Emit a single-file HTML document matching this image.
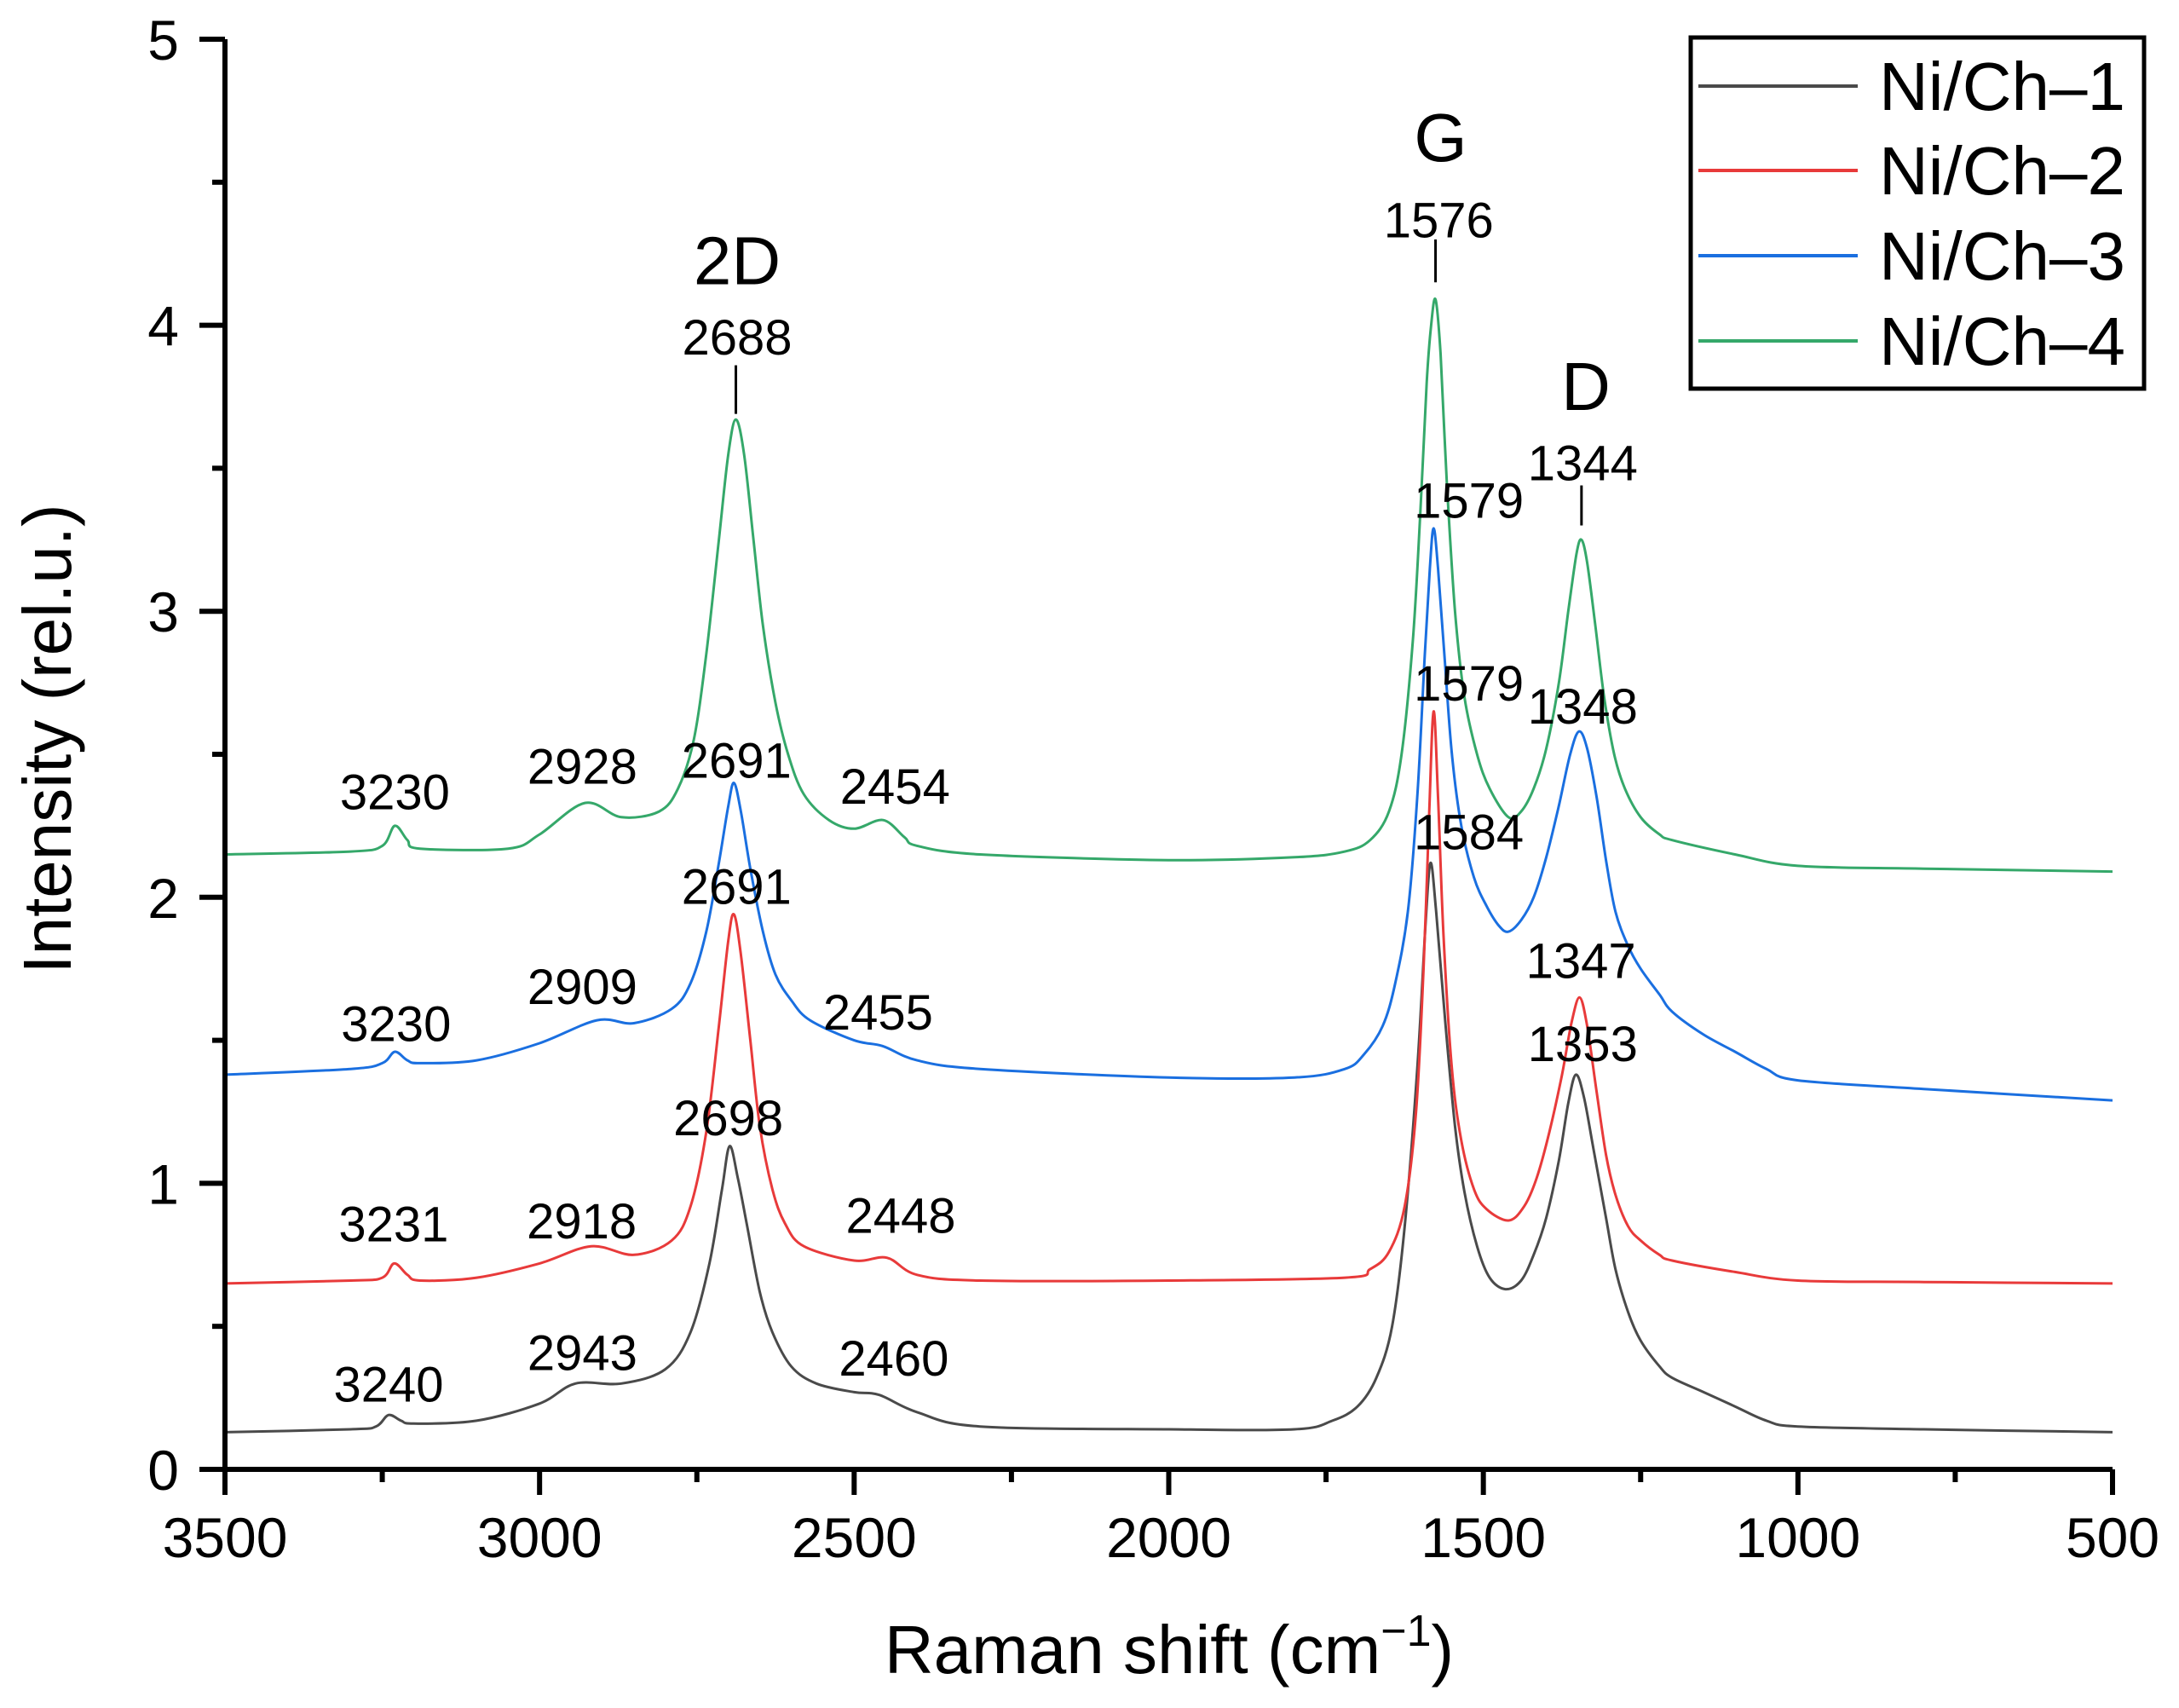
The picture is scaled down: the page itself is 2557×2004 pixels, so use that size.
<!DOCTYPE html>
<html><head><meta charset="utf-8"><style>
html,body{margin:0;padding:0;background:#fff;}
svg{display:block;font-family:"Liberation Sans",Arial,sans-serif;}
</style></head><body>
<svg id="chart" width="2557" height="2004" viewBox="0 0 2557 2004" xmlns="http://www.w3.org/2000/svg">
<g id="series"></g>
<g id="axes"></g>
<g id="annots"></g>
<text x="83" y="867" transform="rotate(-90 83 867)" text-anchor="middle" font-size="80">Intensity (rel.u.)</text>
<text x="1372" y="1963" text-anchor="middle" font-size="80">Raman shift (cm<tspan dy="-32" font-size="52">−1</tspan><tspan dy="32">)</tspan></text>
<g>
<rect x="1984" y="44" width="532" height="412" fill="#fff" stroke="#000" stroke-width="5"/>
<line x1="1993" y1="101" x2="2180" y2="101" stroke="#4a4a4a" stroke-width="4"/>
<text x="2205" y="129" font-size="80">Ni/Ch–1</text>
<line x1="1993" y1="200" x2="2180" y2="200" stroke="#e83a3a" stroke-width="4"/>
<text x="2205" y="228" font-size="80">Ni/Ch–2</text>
<line x1="1993" y1="300" x2="2180" y2="300" stroke="#1a6fe0" stroke-width="4"/>
<text x="2205" y="328" font-size="80">Ni/Ch–3</text>
<line x1="1993" y1="400" x2="2180" y2="400" stroke="#35a86a" stroke-width="4"/>
<text x="2205" y="428" font-size="80">Ni/Ch–4</text>
</g>
</svg>
<script>
const xTicks = [3500, 3000, 2500, 2000, 1500, 1000, 500];
const yTicks = [0, 1, 2, 3, 4, 5];
const seriesNames = ['Ni/Ch-1', 'Ni/Ch-2', 'Ni/Ch-3', 'Ni/Ch-4'];
const seriesColors = ['#4a4a4a', '#e83a3a', '#1a6fe0', '#35a86a'];
const ch1 = [[3500,0.13],[3300,0.14],[3260,0.15],[3240,0.19],[3220,0.17],[3200,0.16],[3100,0.17],[3000,0.23],[2943,0.30],[2870,0.30],[2800,0.35],[2760,0.48],[2730,0.72],[2710,0.98],[2698,1.13],[2685,1.02],[2670,0.85],[2650,0.62],[2630,0.48],[2600,0.36],[2560,0.30],[2500,0.27],[2460,0.26],[2400,0.20],[2300,0.15],[2000,0.14],[1800,0.14],[1740,0.17],[1700,0.22],[1670,0.32],[1645,0.50],[1625,0.85],[1605,1.40],[1592,1.90],[1584,2.12],[1575,1.95],[1560,1.55],[1545,1.20],[1530,0.97],[1510,0.78],[1490,0.67],[1465,0.63],[1440,0.66],[1420,0.75],[1400,0.88],[1380,1.08],[1365,1.28],[1353,1.38],[1340,1.30],[1325,1.12],[1305,0.88],[1290,0.70],[1270,0.55],[1250,0.45],[1220,0.36],[1200,0.32],[1150,0.27],[1100,0.22],[1050,0.17],[1000,0.15],[800,0.14],[500,0.13]];
const ch2 = [[3500,0.65],[3300,0.66],[3250,0.67],[3231,0.72],[3210,0.68],[3190,0.66],[3100,0.67],[3000,0.72],[2918,0.78],[2850,0.75],[2790,0.80],[2760,0.92],[2735,1.18],[2715,1.55],[2700,1.85],[2691,1.94],[2680,1.80],[2665,1.50],[2650,1.20],[2630,0.98],[2610,0.86],[2580,0.78],[2500,0.73],[2448,0.74],[2400,0.68],[2300,0.66],[2000,0.66],[1720,0.67],[1680,0.70],[1650,0.76],[1625,0.92],[1607,1.25],[1595,1.75],[1586,2.30],[1579,2.65],[1572,2.35],[1563,1.85],[1550,1.40],[1535,1.15],[1515,0.98],[1495,0.91],[1460,0.87],[1435,0.92],[1415,1.02],[1395,1.18],[1375,1.38],[1360,1.56],[1347,1.65],[1335,1.55],[1320,1.32],[1305,1.10],[1290,0.96],[1270,0.85],[1250,0.80],[1220,0.75],[1200,0.73],[1100,0.69],[1000,0.66],[800,0.655],[500,0.65]];
const ch3 = [[3500,1.38],[3300,1.40],[3250,1.42],[3230,1.46],[3210,1.43],[3190,1.42],[3100,1.43],[3000,1.49],[2909,1.57],[2850,1.56],[2790,1.61],[2760,1.70],[2735,1.88],[2715,2.12],[2700,2.32],[2691,2.40],[2680,2.30],[2665,2.10],[2645,1.88],[2625,1.73],[2600,1.64],[2570,1.57],[2500,1.50],[2455,1.48],[2400,1.43],[2300,1.40],[2000,1.37],[1800,1.37],[1720,1.40],[1690,1.45],[1660,1.55],[1640,1.70],[1620,1.95],[1605,2.35],[1593,2.85],[1585,3.15],[1579,3.29],[1572,3.15],[1562,2.85],[1550,2.50],[1535,2.25],[1515,2.07],[1495,1.97],[1475,1.90],[1460,1.88],[1440,1.92],[1420,2.00],[1400,2.14],[1380,2.32],[1362,2.50],[1348,2.58],[1335,2.52],[1320,2.35],[1305,2.13],[1290,1.95],[1270,1.83],[1250,1.75],[1220,1.66],[1200,1.60],[1150,1.52],[1100,1.46],[1050,1.40],[1000,1.36],[800,1.33],[500,1.29]];
const ch4 = [[3500,2.15],[3300,2.16],[3250,2.18],[3230,2.25],[3210,2.20],[3190,2.17],[3050,2.17],[3000,2.22],[2928,2.33],[2870,2.28],[2810,2.30],[2780,2.38],[2755,2.55],[2735,2.85],[2715,3.25],[2700,3.55],[2688,3.67],[2675,3.55],[2660,3.25],[2645,2.95],[2625,2.68],[2605,2.50],[2580,2.36],[2540,2.27],[2500,2.24],[2454,2.27],[2420,2.21],[2400,2.18],[2300,2.15],[2000,2.13],[1800,2.14],[1720,2.16],[1680,2.20],[1650,2.30],[1630,2.50],[1612,2.90],[1600,3.35],[1590,3.80],[1583,4.00],[1576,4.09],[1568,3.90],[1558,3.45],[1545,3.00],[1530,2.70],[1510,2.50],[1490,2.38],[1460,2.28],[1440,2.30],[1420,2.38],[1400,2.52],[1380,2.75],[1365,3.00],[1352,3.20],[1344,3.25],[1335,3.17],[1322,2.95],[1308,2.70],[1292,2.50],[1275,2.38],[1250,2.28],[1220,2.22],[1200,2.20],[1100,2.15],[1000,2.11],[800,2.10],[500,2.09]];
const seriesData = [ch1, ch2, ch3, ch4];
const labelTexts = ['2D','G','D','3230','2928','2691','2454','2688','1576','1344','3230','2909','2455','1579','1348','3231','2918','2691','2448','1579','1347','3240','2943','2698','2460','1584','1353'];
const labelX = [2686,1568,1337,3230,2932,2687,2435,2686,1571,1342,3228,2932,2462,1523,1342,3232,2933,2687,2426,1523,1345,3240,2932,2700,2437,1523,1342];
const labelY = [4.23,4.66,3.79,2.37,2.46,2.48,2.39,3.96,4.37,3.52,1.56,1.69,1.60,3.39,2.67,0.86,0.87,2.04,0.89,2.75,1.78,0.30,0.41,1.23,0.39,2.23,1.49];
const labelBig = [1,1,1,0,0,0,0,0,0,0,0,0,0,0,0,0,0,0,0,0,0,0,0,0,0,0,0];
const markX = [2688, 1576, 1344];
const markY0 = [3.69, 4.15, 3.30];
const markY1 = [3.86, 4.30, 3.44];

const X0 = 264, X1 = 2479, Y0 = 1724, Y1 = 46;
const sx = v => X0 + (3500 - v) / 3000 * (X1 - X0);
const sy = v => Y0 - v / 5 * (Y0 - Y1);
const NS = 'http://www.w3.org/2000/svg';
function mk(tag, parent) { const e = document.createElementNS(NS, tag); parent.appendChild(e); return e; }

const gs = document.getElementById('series');
seriesData.forEach((pts, i) => {
  const p = pts.map(q => [sx(q[0]), sy(q[1])]);
  let d = 'M' + p[0][0].toFixed(1) + ',' + p[0][1].toFixed(1);
  for (let k = 0; k < p.length - 1; k++) {
    const a = p[Math.max(0, k - 1)], b = p[k], c = p[k + 1], e = p[Math.min(p.length - 1, k + 2)];
    const c1x = b[0] + (c[0] - a[0]) / 6, c1y = b[1] + (c[1] - a[1]) / 6;
    const c2x = c[0] - (e[0] - b[0]) / 6, c2y = c[1] - (e[1] - b[1]) / 6;
    d += 'C' + c1x.toFixed(1) + ',' + c1y.toFixed(1) + ' ' + c2x.toFixed(1) + ',' + c2y.toFixed(1) + ' ' + c[0].toFixed(1) + ',' + c[1].toFixed(1);
  }
  const path = mk('path', gs);
  path.setAttribute('d', d);
  path.setAttribute('fill', 'none');
  path.setAttribute('stroke', seriesColors[i]);
  path.setAttribute('stroke-width', '3');
  
  
});

const ga = document.getElementById('axes');
const yl = mk('line', ga);
yl.setAttribute('x1', X0); yl.setAttribute('x2', X0); yl.setAttribute('y1', Y1); yl.setAttribute('y2', Y0 + 3);
yl.setAttribute('stroke', '#000'); yl.setAttribute('stroke-width', '6');


const xl = mk('line', ga);
xl.setAttribute('x1', X0 - 3); xl.setAttribute('x2', X1); xl.setAttribute('y1', Y0); xl.setAttribute('y2', Y0);
xl.setAttribute('stroke', '#000'); xl.setAttribute('stroke-width', '6');



xTicks.forEach((v, i) => {
  const t = mk('line', ga);
  t.setAttribute('x1', sx(v)); t.setAttribute('x2', sx(v)); t.setAttribute('y1', Y0); t.setAttribute('y2', Y0 + 30);
  t.setAttribute('stroke', '#000'); t.setAttribute('stroke-width', '6');
  
  
  const tx = mk('text', ga);
  tx.setAttribute('x', sx(v)); tx.setAttribute('y', 1827);
  tx.setAttribute('text-anchor', 'middle'); tx.setAttribute('font-size', '66');
  tx.textContent = v;
  
  
  if (i < xTicks.length - 1) {
    const m = (v + xTicks[i + 1]) / 2;
    const mt = mk('line', ga);
    mt.setAttribute('x1', sx(m)); mt.setAttribute('x2', sx(m)); mt.setAttribute('y1', Y0); mt.setAttribute('y2', Y0 + 15);
    mt.setAttribute('stroke', '#000'); mt.setAttribute('stroke-width', '6');
    
    
  }
});
yTicks.forEach((v, i) => {
  const t = mk('line', ga);
  t.setAttribute('x1', X0 - 30); t.setAttribute('x2', X0); t.setAttribute('y1', sy(v)); t.setAttribute('y2', sy(v));
  t.setAttribute('stroke', '#000'); t.setAttribute('stroke-width', '6');
  
  
  const tx = mk('text', ga);
  tx.setAttribute('x', 210); tx.setAttribute('y', sy(v) + 24);
  tx.setAttribute('text-anchor', 'end'); tx.setAttribute('font-size', '66');
  tx.textContent = v;
  
  
  if (i < yTicks.length - 1) {
    const m = (v + yTicks[i + 1]) / 2;
    const mt = mk('line', ga);
    mt.setAttribute('x1', X0 - 15); mt.setAttribute('x2', X0); mt.setAttribute('y1', sy(m)); mt.setAttribute('y2', sy(m));
    mt.setAttribute('stroke', '#000'); mt.setAttribute('stroke-width', '6');
    
    
  }
});

const gn = document.getElementById('annots');
labelTexts.forEach((s, i) => {
  const big = labelBig[i];
  const tx = mk('text', gn);
  tx.setAttribute('x', sx(labelX[i]));
  tx.setAttribute('y', sy(labelY[i]) + (big ? 29 : 21));
  tx.setAttribute('text-anchor', 'middle');
  tx.setAttribute('font-size', big ? '80' : '58');
  tx.textContent = s;
  
  
});
markX.forEach((v, i) => {
  const l = mk('line', gn);
  l.setAttribute('x1', sx(v)); l.setAttribute('x2', sx(v));
  l.setAttribute('y1', sy(markY0[i])); l.setAttribute('y2', sy(markY1[i]));
  l.setAttribute('stroke', '#000'); l.setAttribute('stroke-width', '3');
  
  
});
</script>
</body></html>
